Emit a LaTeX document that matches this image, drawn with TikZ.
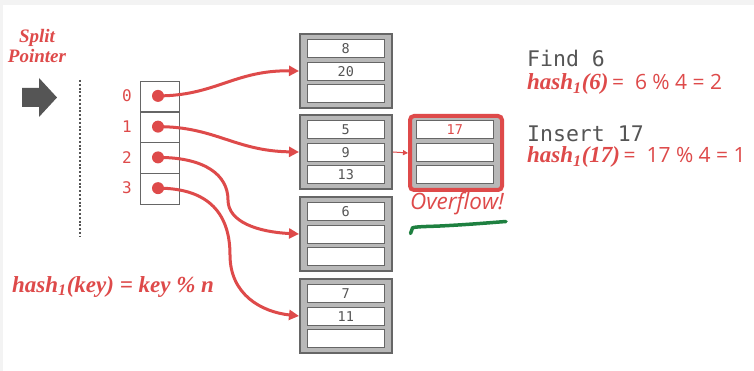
\documentclass[tikz,border=0pt]{standalone}
\usepackage{fontspec}
\setmainfont{Liberation Serif}
\setsansfont{Open Sans}
\setmonofont{DejaVu Sans Mono}
\usetikzlibrary{arrows.meta}
\definecolor{hred}{HTML}{DE4A4A}
\definecolor{tgrey}{HTML}{555555}
\definecolor{bgrey}{HTML}{666666}
\definecolor{bfill}{HTML}{B8B8B8}
\definecolor{hgreen}{HTML}{1E8040}
\definecolor{pageg}{HTML}{F3F3F3}
\begin{document}
\begin{tikzpicture}[x=1pt,y=-1pt,
  bucket/.style={draw=bgrey, line width=2pt, fill=bfill, minimum width=92pt, minimum height=74pt, inner sep=0pt, anchor=north west},
  slot/.style={draw=bgrey, line width=1.3pt, fill=white, minimum width=77pt, minimum height=18pt, inner sep=0pt, anchor=north west, font=\ttfamily\fontsize{13.5}{13.5}\selectfont, text=tgrey},
  dircell/.style={draw=bgrey, line width=1.3pt, minimum width=39pt, minimum height=30.75pt, inner sep=0pt, anchor=north west},
  dot/.style={circle, fill=hred, minimum size=12pt, inner sep=0pt},
  idx/.style={font=\ttfamily\fontsize{16}{16}\selectfont, text=hred},
  conn/.style={draw=hred, line width=3pt, -{Triangle[length=10pt,width=10pt]}},
  bi/.style={font=\bfseries\itshape\fontsize{20}{20}\selectfont, text=hred, inner sep=0pt},
  mono/.style={font=\ttfamily\fontsize{21.5}{21.5}\selectfont, text=tgrey, inner sep=0pt}
]
\useasboundingbox (0,0) rectangle (754,371);
\fill[pageg] (0,0) rectangle (754,371);
\fill[white] (3,5) rectangle (754,371);

% split pointer
\node[bi, font=\bfseries\itshape\fontsize{19}{19}\selectfont, anchor=base] (sp1) at (37,43) {Split};
\node[bi, font=\bfseries\itshape\fontsize{19}{19}\selectfont, anchor=base] (sp2) at (37,63) {Pointer};
\fill[tgrey] (22,88) -- (39,88) -- (39,78) -- (57,97.5) -- (39,117) -- (39,107) -- (22,107) -- cycle;
\coordinate (dl1) at (80,80);
\coordinate (dl2) at (80,237);
\draw[tgrey, line width=2.5pt, dash pattern=on 2pt off 1.8pt] (dl1) -- (dl2);

% directory
\foreach \i in {0,1,2,3} {
  \node[dircell] (c\i) at (139.6, 80.6+30.75*\i) {};
  \node[dot] (d\i) at (158, 95.9+30.75*\i) {};
  \node[idx] (l\i) at (127, 95.9+30.75*\i) {\i};
}

% buckets
\foreach \i/\y/\a/\b/\c in {1/32/8/20/{},2/113/5/9/13,3/195/6/{}/{},4/277/7/11/{}} {
  \node[bucket] (b\i) at (299,\y+1) {};
  \node[slot] (b\i s1) at (306.6,\y+6.6) {\a};
  \node[slot] (b\i s2) at (306.6,\y+29.6) {\b};
  \node[slot] (b\i s3) at (306.6,\y+51.6) {\c};
}

% overflow bucket
\node[bucket, draw=hred, line width=4pt, rounded corners=4pt, minimum width=92pt, minimum height=74pt] (ov) at (408,114) {};
\node[slot, text=hred] (ov1) at (415.6,119.6) {17};
\node[slot] (ov2) at (415.6,142.6) {};
\node[slot] (ov3) at (415.6,164.6) {};
\draw[draw=hred, line width=1pt, -{Triangle[length=5pt,width=5pt]}] (b2.east) -- (ov.west);
\node[font=\sffamily\itshape\fontsize{22.5}{22.5}\selectfont, text=hred, anchor=base, inner sep=0pt] (ovt) at (457,210) {Overflow!};
\coordinate (g1) at (410.5,233.5);
\coordinate (g2) at (506,221.5);
\draw[hgreen, line width=3.5pt, line cap=round] (g1) -- (412.5,228) .. controls (414,226.5) and (430,226.5) .. (440,226) .. controls (470,224.5) and (492,222.5) .. (g2);

% connectors
\draw[conn] (d0.center) .. controls (215,95.9) and (235,70) .. (b1.west);
\draw[conn] (d1.center) .. controls (215,126.6) and (235,151) .. (b2.west);
\draw[conn] (d2.center) .. controls (205,157.4) and (228,175) .. (228,200) .. controls (228,222) and (258,232) .. (b3.west);
\draw[conn] (d3.center) .. controls (210,188.2) and (230,215) .. (230,255) .. controls (230,295) and (262,312) .. (b4.west);

% key formula
\node[bi, anchor=base west, font=\bfseries\itshape\fontsize{23}{23}\selectfont] (kf) at (12,292) {hash\textsubscript{1}(key) = key \% n};

% right texts
\node[mono, anchor=base west] (t1) at (527,67) {Find 6};
\node[anchor=base west, text=hred, inner sep=0pt] (t2) at (527,90) {{\bfseries\itshape\fontsize{23}{23}\selectfont hash\textsubscript{1}(6)}{\sffamily\fontsize{21}{21}\selectfont\,= \ 6 \% 4 = 2}};
\node[mono, anchor=base west] (t3) at (527,142) {Insert 17};
\node[anchor=base west, text=hred, inner sep=0pt] (t4) at (527,163) {{\bfseries\itshape\fontsize{23}{23}\selectfont hash\textsubscript{1}(17)}{\sffamily\fontsize{21}{21}\selectfont\,= \ 17 \% 4 = 1}};
\end{tikzpicture}
\end{document}
